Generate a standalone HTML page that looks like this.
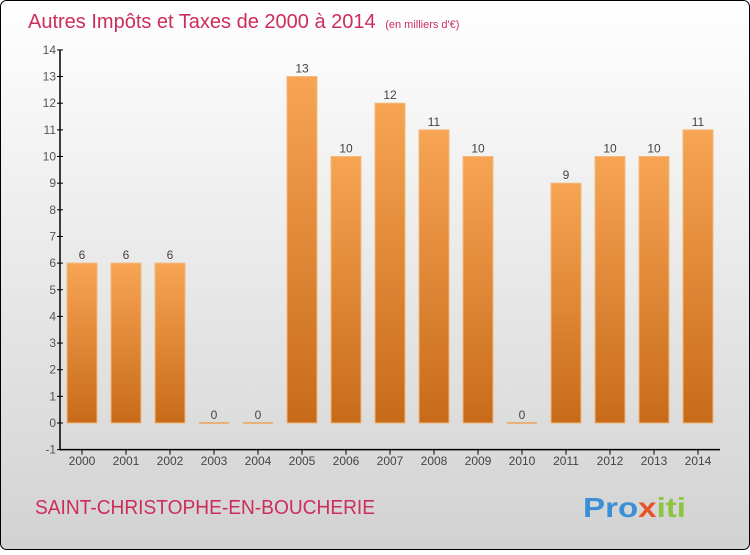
<!DOCTYPE html>
<html><head><meta charset="utf-8"><style>
html,body{margin:0;padding:0;}
body{width:750px;height:550px;overflow:hidden;font-family:"Liberation Sans",sans-serif;}
</style></head><body>
<svg width="750" height="550">
<defs>
<linearGradient id="bg" x1="0" y1="0" x2="0" y2="1"><stop offset="0" stop-color="#ffffff"/><stop offset="1" stop-color="#d2d2d2"/></linearGradient>
<linearGradient id="bar" x1="0" y1="0" x2="0" y2="1"><stop offset="0" stop-color="#f7a553"/><stop offset="1" stop-color="#c76b1a"/></linearGradient>
</defs>
<rect x="0.5" y="0.5" width="749" height="549" rx="6" fill="url(#bg)" stroke="#000"/>
<text x="28" y="28" font-size="20" fill="#cc2d5c">Autres Impôts et Taxes de 2000 à 2014 <tspan font-size="11" dx="4">(en milliers d'€)</tspan></text>
<g id="yaxis"></g>
<g id="bars"></g>
<g id="xaxis"></g>
<text x="35" y="514" font-size="20" fill="#cc2d5c" textLength="340" lengthAdjust="spacingAndGlyphs">SAINT-CHRISTOPHE-EN-BOUCHERIE</text>
<text x="583" y="517" font-size="28" font-weight="bold" textLength="103" lengthAdjust="spacingAndGlyphs"><tspan fill="#3a8fd6">Pro</tspan><tspan fill="#e8522a">x</tspan><tspan fill="#8cc63f">iti</tspan></text>
</svg>
<script>
const years=["2000","2001","2002","2003","2004","2005","2006","2007","2008","2009","2010","2011","2012","2013","2014"];
const values=[6,6,6,0,0,13,10,12,11,10,0,9,10,10,11];
const yTicks=[-1,0,1,2,3,4,5,6,7,8,9,10,11,12,13,14];
const NS="http://www.w3.org/2000/svg";
function y(v){return 423-(v)*26.65;}
function x(i){return 82+i*44;}
function mk(t,a,p,txt){const e=document.createElementNS(NS,t);for(const k in a)e.setAttribute(k,a[k]);if(txt!==undefined)e.textContent=txt;p.appendChild(e);return e;}
const ya=document.getElementById('yaxis'),xa=document.getElementById('xaxis'),bg=document.getElementById('bars');
let l=mk('line',{x1:60,y1:y(14),x2:60,y2:y(-1),stroke:'#000','stroke-width':1.5},ya);


yTicks.forEach(v=>{
 let t=mk('line',{x1:57,x2:63,y1:y(v),y2:y(v),stroke:'#000'},ya);
 
 
 let lb=mk('text',{x:56,y:y(v)+4,'font-size':12,fill:'#555','text-anchor':'end'},ya,String(v));
 
 
});
let xl=mk('line',{x1:60,y1:y(-1),x2:720,y2:y(-1),stroke:'#000','stroke-width':1.5},xa);


years.forEach((yr,i)=>{
 let t=mk('line',{x1:x(i),x2:x(i),y1:y(-1),y2:y(-1)+5,stroke:'#000'},xa);
 
 
 let lb=mk('text',{x:x(i),y:465,'font-size':12,fill:'#444','text-anchor':'middle'},xa,yr);
 
 
 const v=values[i];
 let r;
 if(v===0){r=mk('rect',{x:x(i)-15,y:y(0)-1,width:30,height:2,fill:'#e8b07a'},bg);}
 else{r=mk('rect',{x:x(i)-15,y:y(v),width:30,height:y(0)-y(v),fill:'url(#bar)',stroke:'#f2b97a','stroke-width':1},bg);}
 
 
 let vl=mk('text',{x:x(i),y:y(v)-4,'font-size':12,fill:'#444','text-anchor':'middle'},bg,String(v));
 
 
});
</script>
</body></html>
